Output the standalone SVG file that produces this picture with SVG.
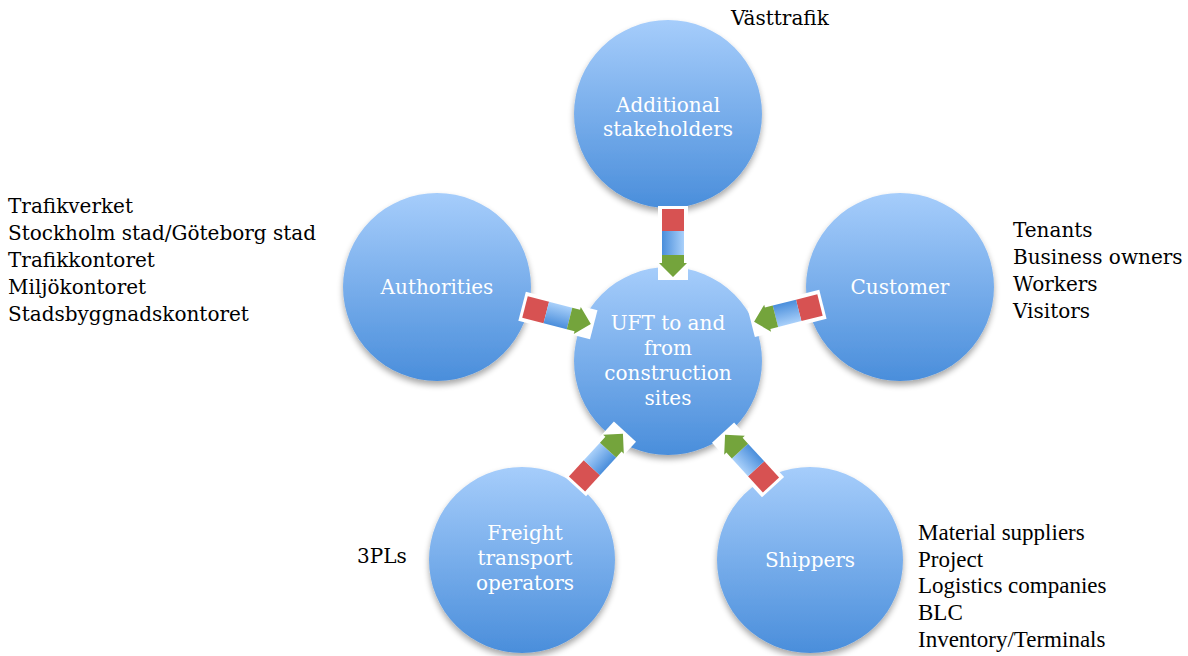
<svg xmlns="http://www.w3.org/2000/svg" xmlns:xlink="http://www.w3.org/1999/xlink" width="1188" height="656" viewBox="0 0 1188 656">
<defs>
<linearGradient id="circGrad" x1="0" y1="0" x2="0" y2="1">
<stop offset="0" stop-color="#a6cdfb"/>
<stop offset="1" stop-color="#4a8edb"/>
</linearGradient>
<linearGradient id="barBlue" x1="0" y1="0" x2="0" y2="1">
<stop offset="0" stop-color="#a9d0fa"/>
<stop offset="1" stop-color="#4a8edb"/>
</linearGradient>
<filter id="shadow" x="-20%" y="-20%" width="140%" height="150%">
<feGaussianBlur in="SourceAlpha" stdDeviation="3"/>
<feOffset dx="0" dy="4" result="b"/>
<feComponentTransfer><feFuncA type="linear" slope="0.35"/></feComponentTransfer>
<feMerge><feMergeNode/><feMergeNode in="SourceGraphic"/></feMerge>
</filter>
<g id="arrow">
<rect x="-3" y="-15" width="74" height="30" fill="#ffffff"/>
<rect x="0" y="-11" width="22" height="22" fill="#d75252"/>
<rect x="22" y="-11" width="24" height="22" fill="url(#barBlue)"/>
<path d="M46,-11 L54,-11 L54,-14 L68,0 L54,14 L54,11 L46,11 Z" fill="#74a43c"/>
</g>
</defs>
<style>
.node{fill:url(#circGrad);filter:url(#shadow)}
.lbl{font-family:"DejaVu Serif","Liberation Serif",serif;font-size:20px;fill:#ffffff;text-anchor:middle}
.txt{font-family:"DejaVu Serif","Liberation Serif",serif;font-size:20px;fill:#000000}
.tnr{font-family:"Liberation Serif","Times New Roman",serif;font-size:23px;fill:#000000}
</style>
<rect width="1188" height="656" fill="#ffffff"/>
<g id="n-additional">
<circle class="node" cx="668" cy="114" r="94"/>
<text class="lbl" x="668" y="112">Additional</text>
<text class="lbl" x="668" y="136">stakeholders</text>
</g>
<g id="n-authorities">
<circle class="node" cx="437" cy="287" r="94"/>
<text class="lbl" x="437" y="294">Authorities</text>
</g>
<g id="n-customer">
<circle class="node" cx="900" cy="287" r="94"/>
<text class="lbl" x="900" y="294">Customer</text>
</g>
<g id="n-uft">
<circle class="node" cx="668" cy="361" r="94"/>
<text class="lbl" x="668" y="330">UFT to and</text>
<text class="lbl" x="668" y="355">from</text>
<text class="lbl" x="668" y="380">construction</text>
<text class="lbl" x="668" y="405">sites</text>
</g>
<g id="n-freight">
<circle class="node" cx="522" cy="560" r="93"/>
<text class="lbl" x="525" y="540">Freight</text>
<text class="lbl" x="525" y="565">transport</text>
<text class="lbl" x="525" y="590">operators</text>
</g>
<g id="n-shippers">
<circle class="node" cx="810" cy="560" r="93"/>
<text class="lbl" x="810" y="567">Shippers</text>
</g>
<g id="connectors">
<use xlink:href="#arrow" transform="translate(673,209) rotate(90)"/>
<use xlink:href="#arrow" transform="translate(525,307) rotate(14.5)"/>
<use xlink:href="#arrow" transform="translate(820,305) rotate(165.8)"/>
<use xlink:href="#arrow" transform="translate(577,484) rotate(-47.5)"/>
<use xlink:href="#arrow" transform="translate(771,485) rotate(-132.5)"/>
</g>
<g id="notes">
<text class="txt" x="731" y="25">Västtrafik</text>
<text class="txt" x="8" y="213">Trafikverket</text>
<text class="txt" x="8" y="240">Stockholm stad/Göteborg stad</text>
<text class="txt" x="8" y="267">Trafikkontoret</text>
<text class="txt" x="8" y="294">Miljökontoret</text>
<text class="txt" x="8" y="321">Stadsbyggnadskontoret</text>
<text class="txt" x="1013" y="237">Tenants</text>
<text class="txt" x="1013" y="264">Business owners</text>
<text class="txt" x="1013" y="291">Workers</text>
<text class="txt" x="1013" y="318">Visitors</text>
<text class="txt" x="357" y="563">3PLs</text>
<text class="tnr" x="918" y="540">Material suppliers</text>
<text class="tnr" x="918" y="567">Project</text>
<text class="tnr" x="918" y="593">Logistics companies</text>
<text class="tnr" x="918" y="620">BLC</text>
<text class="tnr" x="918" y="647">Inventory/Terminals</text>
</g>
</svg>
